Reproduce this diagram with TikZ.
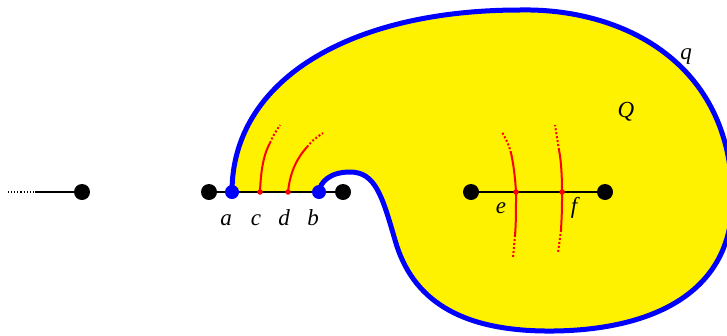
\documentclass[tikz,border=0pt]{standalone}
\usepackage{fontspec}
\setmainfont{Liberation Serif}
\begin{document}
\begin{tikzpicture}[x=1pt,y=-1pt,
 bdot/.style={circle,fill=black,inner sep=0pt,minimum size=16pt},
 adot/.style={circle,fill=blue,inner sep=0pt,minimum size=14pt},
 rdot/.style={circle,fill=red,inner sep=0pt,minimum size=5.5pt},
 lab/.style={font=\fontsize{23}{26}\selectfont\itshape,inner sep=0pt,anchor=base},
 bd/.style={blue,line width=5pt},
 thinl/.style={black,line width=1.1pt},
 rl/.style={red,line width=2pt},
 rdots/.style={red,line width=2pt,dotted}]
\useasboundingbox (0,0) rectangle (727,335);
% region Q
\fill[yellow] (232,192) .. controls (232,80) and (350,10) .. (520,10)
  .. controls (620,8) and (727,60) .. (732,190)
  .. controls (738,300) and (640,332) .. (545,331)
  .. controls (460,330) and (412,300) .. (395,240)
  .. controls (382,195) and (375,172) .. (350,172)
  .. controls (330,172) and (320,182) .. (319,192) -- cycle;
% coordinates
\coordinate (L0) at (8,192);
\coordinate (L1) at (35,192);
\node[bdot] (L) at (82,192) {};
\node[bdot] (M1) at (209,192) {};
\node[bdot] (M2) at (343,192) {};
\node[bdot] (R1) at (471,192) {};
\node[bdot] (R2) at (605,192) {};
\coordinate (a) at (232,192);
\coordinate (b) at (319,192);
\coordinate (c) at (260,192);
\coordinate (d) at (288,192);
\coordinate (e) at (516,192);
\coordinate (f) at (562,192);
% black lines
\draw[thinl,dotted] (L0) -- (L1);
\draw[thinl] (L1) -- (L);
\draw[thinl] (M1) -- (M2);
\draw[thinl] (R1) -- (R2);
% red curves
\coordinate (c1) at (270,143); \coordinate (c2) at (280,125);
\coordinate (d1) at (307,147); \coordinate (d2) at (323,133);
\coordinate (e1) at (511,153); \coordinate (e2) at (502,132);
\coordinate (e3) at (515,235); \coordinate (e4) at (513,258);
\coordinate (f1) at (559,150); \coordinate (f2) at (555,125);
\coordinate (f3) at (561,230); \coordinate (f4) at (558,253);
\draw[rl] (c) .. controls (261,165) and (265,152) .. (c1);
\draw[rdots] (c1) .. controls (273,136) .. (c2);
\draw[rl] (d) .. controls (290,172) and (297,158) .. (d1);
\draw[rdots] (d1) .. controls (313,140) .. (d2);
\draw[rl] (e) .. controls (515,175) and (513,162) .. (e1);
\draw[rdots] (e1) .. controls (508,143) .. (e2);
\draw[rl] (e) .. controls (516,210) and (516,225) .. (e3);
\draw[rdots] (e3) -- (e4);
\draw[rl] (f) .. controls (562,175) and (561,160) .. (f1);
\draw[rdots] (f1) -- (f2);
\draw[rl] (f) .. controls (562,210) .. (f3);
\draw[rdots] (f3) -- (f4);
% boundary q
\draw[bd] (a) .. controls (232,80) and (350,10) .. (520,10)
  .. controls (620,8) and (727,60) .. (732,190)
  .. controls (738,300) and (640,332) .. (545,331)
  .. controls (460,330) and (412,300) .. (395,240)
  .. controls (382,195) and (375,172) .. (350,172)
  .. controls (330,172) and (320,182) .. (b);
% dots
\node[adot] (A) at (a) {};
\node[adot] (B) at (b) {};
\node[rdot] (C) at (c) {};
\node[rdot] (D) at (d) {};
\node[rdot] (E) at (e) {};
\node[rdot] (F) at (f) {};
% labels
\node[lab] (la) at (226,225) {a};
\node[lab] (lc) at (256,225) {c};
\node[lab] (ld) at (284,225) {d};
\node[lab] (lb) at (313,225) {b};
\node[lab] (le) at (501,213) {e};
\node[lab] (lf) at (574,213) {f};
\node[lab] (lQ) at (626,117) {Q};
\node[lab] (lq) at (686,59) {q};
\end{tikzpicture}
\end{document}
